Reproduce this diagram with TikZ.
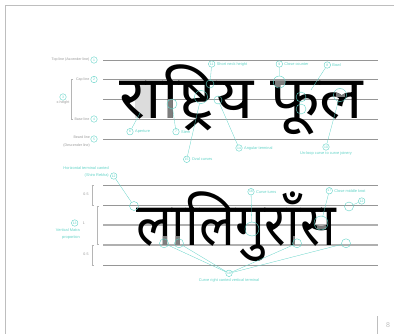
\documentclass[tikz,border=0pt]{standalone}
\usepackage{fontspec}
\setmainfont{Liberation Sans}
\newfontfamily\devfont[Script=Devanagari]{Noto Sans}
\usetikzlibrary{positioning}
\definecolor{guideGray}{RGB}{150,150,150}
\definecolor{frameGray}{RGB}{190,190,190}
\definecolor{noteTeal}{RGB}{96,210,198}
\definecolor{shadeGray}{RGB}{220,220,220}
\definecolor{patchGray}{RGB}{125,125,125}
\newcommand{\wordA}{\scalebox{1.07}[1]{राष्ट्रिय फूल}}
\newcommand{\wordB}{\scalebox{0.88}[1]{लालिगुराँस}}

\begin{document}
\begin{tikzpicture}[x=1pt,y=-1pt,
    guide/.style={draw=guideGray,line width=0.9pt},
    tag/.style={circle,draw=noteTeal,text=noteTeal,inner sep=0pt,
                minimum size=6.5pt,line width=0.4pt,
                font=\fontsize{3.4}{4}\selectfont},
    ring/.style={circle,draw=noteTeal,minimum size=10pt,inner sep=0pt,
                 line width=0.4pt},
    note/.style={text=noteTeal,inner sep=0.5pt,font=\fontsize{3.9}{7.4}\selectfont},
    side/.style={text=guideGray,inner sep=0.5pt,font=\fontsize{3.6}{7.6}\selectfont},
    lead/.style={draw=noteTeal,line width=0.3pt},
    brace/.style={draw=guideGray!70,line width=0.4pt},
    word/.style={anchor=base west,inner sep=0pt,
                 font=\devfont\fontsize{60}{60}\selectfont}]
  \useasboundingbox (0,0) rectangle (394,334);
  % page frame
  \draw[frameGray,line width=1pt] (394,6) -- (5,6) -- (5,334);
  \draw[frameGray,line width=0.8pt] (377,316) -- (377,334);
  \node[text=frameGray,font=\fontsize{7}{8}\selectfont] (page) at (388,325) {8};

  % guide lines
  \foreach \y/\n in {60/top,79.5/cap,99/mid,119/base,139/beard}
    \draw[guide] (103,\y) coordinate (\n) -- (378,\y);
  \foreach \y/\n in {185/atop,205/acap,265/abeard}
    \draw[guide] (103,\y) coordinate (\n) -- (378,\y);
  \foreach \y/\n in {225/amid,245/abase}
    \draw[guide,draw=guideGray!75,line width=1.3pt] (103,\y) coordinate (\n) -- (378,\y);

  % words
  \fill[shadeGray] (135,82) rectangle (155,118);
  \node[word] (w1) at (119,119) {\wordA};
  \node[word] (w2) at (136,245) {\wordB};
  \begin{scope}
    \clip (168,99) rectangle (177,119) (275,79) rectangle (284,87)
          (336,89) rectangle (344,97);
    \node[word,text=patchGray] at (119,119) {\wordA};
  \end{scope}
  \begin{scope}
    \clip (160,236) rectangle (168,246) (175,236) rectangle (183,246)
          (293,236) rectangle (301,246) (342,236) rectangle (350,246)
          (317,220) rectangle (325,229);
    \node[word,text=patchGray] at (136,245) {\wordB};
  \end{scope}

  % left side, upper block
  \node[tag] (t1) at (94,60) {1};
  \node[side,left=0.5pt of t1] (l1) {Top line (Ascender line)};
  \node[tag] (t2) at (94,79.5) {2};
  \node[side,left=0.5pt of t2] (l2) {Cap line};
  \node[tag] (t4) at (94,119) {4};
  \node[side,left=0.5pt of t4] (l4) {Base line};
  \node[tag] (t5) at (94,139) {5};
  \node[side,align=right,anchor=east] (l5) at (90.5,141.5) {Beard line\\(Descender line)};
  \node[tag] (t3) at (63,97) {3};
  \node[side,below=0pt of t3] (l3) {x-height};
  \draw[brace] (73,79.5) -- (71,79.5) -- (71,119) -- (73,119);

  % left side, lower block
  \node[side] (h1) at (86,194) {0.5};
  \node[side] (h2) at (84,223) {1};
  \node[side] (h3) at (86,254) {0.5};
  \draw[brace] (91.5,185) -- (93.5,185) (92.5,185) -- (92.5,205) (91.5,205) -- (93.5,205);
  \draw[brace] (96.5,206) -- (98.5,206) (97.5,206) -- (97.5,244) (96.5,244) -- (98.5,244);
  \draw[brace] (91.5,245) -- (93.5,245) (92.5,245) -- (92.5,265) (91.5,265) -- (93.5,265);
  \node[tag] (t13) at (74.7,223) {13};
  \node[note,align=right,anchor=north east] (l13) at (80.5,227.5) {Vertical Matra\\proportion};
  \node[tag] (t12) at (113.7,176) {12};
  \node[note,align=right,anchor=south east] (l12) at (109.5,178.5) {Horizontal terminal canted\\(Shiro Rekha)};

  % notes on the first word
  \coordinate (ap) at (140,113);
  \coordinate (bw) at (311,90);
  \node[ring] (r7) at (172,104) {};
  \node[ring,minimum size=8pt] (r11) at (210,84) {};
  \node[ring,minimum size=13pt] (r15) at (201,97) {};
  \node[ring,minimum size=8pt] (r14) at (218,100) {};
  \node[ring,minimum size=12pt] (r9) at (279.3,82) {};
  \node[ring] (r10a) at (301,97) {};
  \node[ring] (r10b) at (301,109) {};
  \node[ring,minimum size=13pt] (r10) at (340,95) {};

  \node[tag] (t6) at (130,131.7) {6};
  \node[note,right=1pt of t6] {Aperture};
  \node[tag] (t7) at (176,131.7) {7};
  \node[note,right=1pt of t7] {Stem};
  \node[tag] (t15) at (186.7,159.3) {15};
  \node[note,right=1pt of t15] {Oval curves};
  \node[tag] (t11) at (211.7,64) {11};
  \node[note,right=1pt of t11] {Short neck height};
  \node[tag] (t14) at (239,148) {14};
  \node[note,right=1pt of t14] {Angular terminal};
  \node[tag] (t9) at (279.3,64) {9};
  \node[note,right=1pt of t9] {Close counter};
  \node[tag] (t8) at (327.3,65) {8};
  \node[note,right=1pt of t8] {Bowl};
  \node[tag] (t10) at (326,147) {10};
  \node[note,below=1pt of t10] {Un-loop curve to curve joinery};
  \draw[lead] (t6) -- (ap)  (t7) -- (r7)  (t15) -- (r15)  (t11) -- (r11)
    (t14) -- (r14)  (t9) -- (r9)  (t8) -- (bw)  (t10) -- (r10);

  % notes on the second word
  \node[ring,minimum size=9pt] (r12) at (134,206) {};
  \node[ring,minimum size=9pt] (r12b) at (349,206.5) {};
  \node[ring,minimum size=14pt] (r16) at (252,229) {};
  \node[ring,minimum size=14pt] (r17) at (321,223) {};
  \foreach \x/\n in {164/a,179/b,297/c,346/d}
    \node[ring,minimum size=9pt] (r18\n) at (\x,243.3) {};

  \node[tag] (t12b) at (361.7,201) {12};
  \node[tag] (t16) at (251,191.7) {16};
  \node[note,right=1pt of t16] {Curve turns};
  \node[tag] (t17) at (329.3,190.7) {17};
  \node[note,right=1pt of t17] {Close middle knot};
  \node[tag] (t18) at (229,273.3) {18};
  \node[note,below=1pt of t18] {Curve right canted vertical terminal};
  \draw[lead] (t12) -- (r12)  (t12b) -- (r12b)  (t16) -- (r16)  (t17) -- (r17);
  \foreach \n in {a,b,c,d}
    \draw[lead] (t18) -- (r18\n);
\end{tikzpicture}
\end{document}
